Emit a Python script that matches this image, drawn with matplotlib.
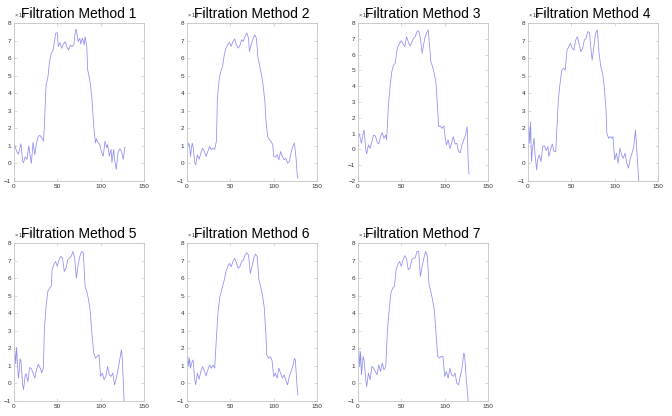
import matplotlib
matplotlib.use('Agg')
import matplotlib.pyplot as plt

# ---- data (values in units of 1e-3) ----
titles = ["Filtration Method %d" % k for k in range(1, 8)]

x1 = [1,3,5,8,10,11,13,15,17,20,22,24,26,28,30,32,34,35,37,39,41,43,45,47,48,50,51,53,55,57,59,61,63,65,67,69,71,72,74,76,77,79,81,82,84,85,87,88,90,92,94,95,97,99,101,103,105,107,108,110,112,113,115,116,118,120,122,124,126,128]
y1 = [1.02,0.7,0.53,1.12,0.13,0.04,0.38,0.23,1.0,0.0,1.2,0.5,1.17,1.55,1.6,1.45,1.27,2.1,4.48,4.86,5.8,6.28,6.43,7.03,7.41,7.45,6.66,6.88,6.56,6.8,6.94,6.65,6.46,6.75,6.65,6.75,7.6,7.64,6.94,7.13,6.8,7.13,6.75,7.22,6.65,5.33,4.86,4.57,3.63,2.12,1.17,1.4,1.17,1.08,0.64,0.42,1.27,0.9,1.08,0.42,0.8,0.04,0.8,0.23,-0.34,0.6,0.83,0.7,0.23,0.93]

x2 = [1,2,3,4,6,7,9,10,12,14,16,18,20,22,24,26,28,30,32,34,35,37,39,41,43,45,47,49,51,53,55,57,59,61,63,65,67,69,71,72,74,76,78,80,82,84,86,88,90,91,93,95,97,99,100,102,104,106,108,110,112,114,116,118,120,122,124,126,127,128]
y2 = [1.0,1.16,0.97,0.4,1.16,0.97,0.02,-0.08,0.49,0.24,0.59,0.87,0.68,0.4,0.68,0.97,0.78,0.87,0.8,1.3,3.63,4.77,5.24,5.53,6.19,6.57,6.76,6.9,6.67,6.95,7.09,6.76,6.57,6.71,7.05,6.95,7.24,7.43,7.14,6.38,6.76,7.05,7.33,7.14,6.0,5.53,5.05,4.39,3.44,2.49,1.54,1.35,1.25,1.06,0.4,0.36,0.49,0.21,0.68,0.4,0.21,0.3,0.02,0.11,0.59,0.97,1.16,0.21,-0.56,-0.84]

x3 = [1,2,4,6,7,9,10,12,14,16,18,20,22,24,26,28,30,32,33,35,37,39,41,43,45,46,48,50,52,54,56,58,60,62,64,66,68,70,72,74,75,77,79,81,83,84,86,88,90,92,93,95,97,99,101,102,104,106,108,110,112,114,116,118,120,122,124,126,127,128]
y3 = [1.02,0.85,0.38,1.02,1.23,-0.04,-0.29,0.28,0.07,0.49,0.91,0.85,0.49,0.34,0.81,1.06,0.7,0.91,0.6,2.7,3.97,4.92,5.34,5.45,6.29,6.5,6.71,6.88,6.67,6.5,7.13,6.82,6.54,6.76,7.03,7.13,7.45,7.51,7.03,6.08,6.4,7.03,7.35,7.56,6.29,5.55,5.24,4.81,4.18,2.49,1.44,1.48,1.33,1.48,0.6,0.28,0.6,0.07,0.38,0.81,0.34,0.38,-0.14,-0.21,0.28,0.6,0.91,1.44,-0.57,-1.56]

x4 = [1,2,3,4,5,7,8,10,11,13,15,17,19,21,23,24,26,28,30,32,35,37,39,41,43,45,47,49,51,53,55,57,59,61,63,65,67,69,71,72,74,76,78,80,82,84,86,88,90,91,93,95,97,98,100,102,104,106,108,110,112,114,116,118,120,122,124,125,127,128]
y4 = [2.1,1.15,2.38,0.1,0.77,1.43,0.58,-0.37,0.2,0.49,0.1,0.96,1.0,0.73,0.96,0.39,0.77,1.11,0.68,0.68,3.62,4.57,5.32,5.42,5.32,6.46,6.65,6.84,6.56,6.46,7.03,7.22,6.8,6.37,6.56,7.03,7.13,7.51,7.45,6.84,5.89,6.65,7.41,7.6,6.27,5.51,5.13,4.38,3.05,1.72,1.43,1.53,1.43,1.53,0.2,0.58,0.01,0.87,0.49,0.3,0.58,0.01,-0.27,0.3,0.58,0.96,1.91,1.15,-0.37,-1.4]

x5 = [1,2,3,5,6,7,8,10,11,13,14,16,18,20,22,24,26,28,30,32,34,35,37,39,41,43,44,46,48,50,52,54,56,58,60,62,64,66,68,70,72,74,76,78,80,82,84,86,88,90,92,94,96,98,100,102,104,106,108,110,112,114,116,118,120,122,124,125,127,128]
y5 = [1.9,1.1,2.05,0.3,0.7,1.4,1.3,-0.1,-0.35,0.5,0.55,0.1,0.9,0.85,0.6,0.3,0.8,1.1,0.9,0.6,0.9,3.06,4.39,5.24,5.43,5.53,6.48,6.76,6.95,6.67,7.05,7.24,7.14,6.38,6.57,7.05,7.14,7.24,7.52,7.14,6.0,6.76,7.24,7.52,7.43,5.53,5.24,4.77,4.1,2.77,1.73,1.44,1.54,1.63,0.4,0.59,0.21,0.4,0.97,0.49,0.4,0.59,-0.08,0.3,0.78,1.35,1.92,1.35,-0.95,-1.3]

x6 = [1,2,3,4,6,7,9,10,12,14,16,18,20,22,24,26,28,30,32,34,36,38,40,42,43,45,47,49,51,53,55,57,59,61,63,65,67,69,71,73,75,77,79,81,83,85,87,89,91,92,94,96,98,100,102,104,106,108,110,112,114,116,118,120,122,124,125,127,128]
y6 = [1.53,1.0,1.43,0.87,1.25,1.34,0.2,-0.08,0.58,0.24,0.68,0.96,0.73,0.43,0.77,1.05,0.87,1.05,0.87,2.67,4.19,4.94,5.32,5.7,5.89,6.37,6.65,6.84,6.65,6.94,7.13,6.88,6.56,6.65,6.94,7.03,7.32,7.45,7.32,6.27,6.65,7.13,7.37,7.22,5.89,5.51,5.04,4.38,2.86,1.62,1.43,1.53,1.34,0.39,0.58,0.3,0.87,0.58,0.3,0.49,0.2,-0.08,0.39,0.68,0.96,1.43,1.34,-0.18,-0.65]

x7 = [1,2,3,4,6,7,9,10,12,14,16,18,20,22,24,26,28,30,32,34,36,38,40,42,44,46,48,50,52,54,56,58,60,62,64,66,68,70,72,74,76,78,80,82,84,86,88,90,92,94,96,98,100,102,104,106,108,110,112,114,116,118,120,122,123,125,127,128]
y7 = [1.92,0.97,1.82,0.49,1.54,1.35,0.21,-0.18,0.59,0.21,0.97,0.87,0.68,0.49,1.06,0.68,1.16,0.78,0.97,3.06,4.2,5.15,5.43,5.53,6.48,6.76,6.95,6.67,7.05,7.28,7.09,6.48,6.57,7.05,7.14,7.14,7.52,7.52,6.1,6.67,7.14,7.52,7.24,5.62,5.24,4.77,4.2,2.87,1.54,1.44,1.54,1.54,0.4,0.68,0.3,0.87,0.49,0.4,0.59,0.02,-0.08,0.4,0.87,1.73,1.63,0.21,-0.93,-1.5]

y_lower = [-1, -1, -2, -1, -1, -1, -1]
x_ticks = [0, 50, 100, 150]

xs = [x1, x2, x3, x4, x5, x6, x7]
ys = [y1, y2, y3, y4, y5, y6, y7]

plt.rcParams['font.family'] = ['Liberation Sans', 'DejaVu Sans']

W, H = 672, 416
fig = plt.figure(figsize=(W / 100, H / 100), dpi=100)
fig.patch.set_facecolor('white')
lefts = [14, 187, 358, 528]
tops = [23, 243]
aw, ah = 130, 158

for i in range(7):
    r, c = divmod(i, 4)
    ax = fig.add_axes([lefts[c] / W, 1 - (tops[r] + ah) / H, aw / W, ah / H])
    ax.plot(xs[i], ys[i], color='#8c8cf2', lw=0.55)
    ax.set_xlim(0, 150)
    ax.set_ylim(y_lower[i], 8)
    ax.set_xticks(x_ticks)
    ax.set_yticks(list(range(y_lower[i], 9)))
    ax.tick_params(direction='in', length=2, width=0.4, labelsize=4.6,
                   color='#bbbbbb', labelcolor='#333333', top=True, right=True, pad=1.8)
    for s in ax.spines.values():
        s.set_color('#c4c4c4')
        s.set_linewidth(0.6)
    ax.text(0.0, 1.02, r'× 10$^{-3}$', transform=ax.transAxes, fontsize=4,
            color='#333333', ha='left', va='bottom')
    ax.set_title(titles[i], fontsize=10, pad=3.5)

fig.savefig('out.png', dpi=100)
